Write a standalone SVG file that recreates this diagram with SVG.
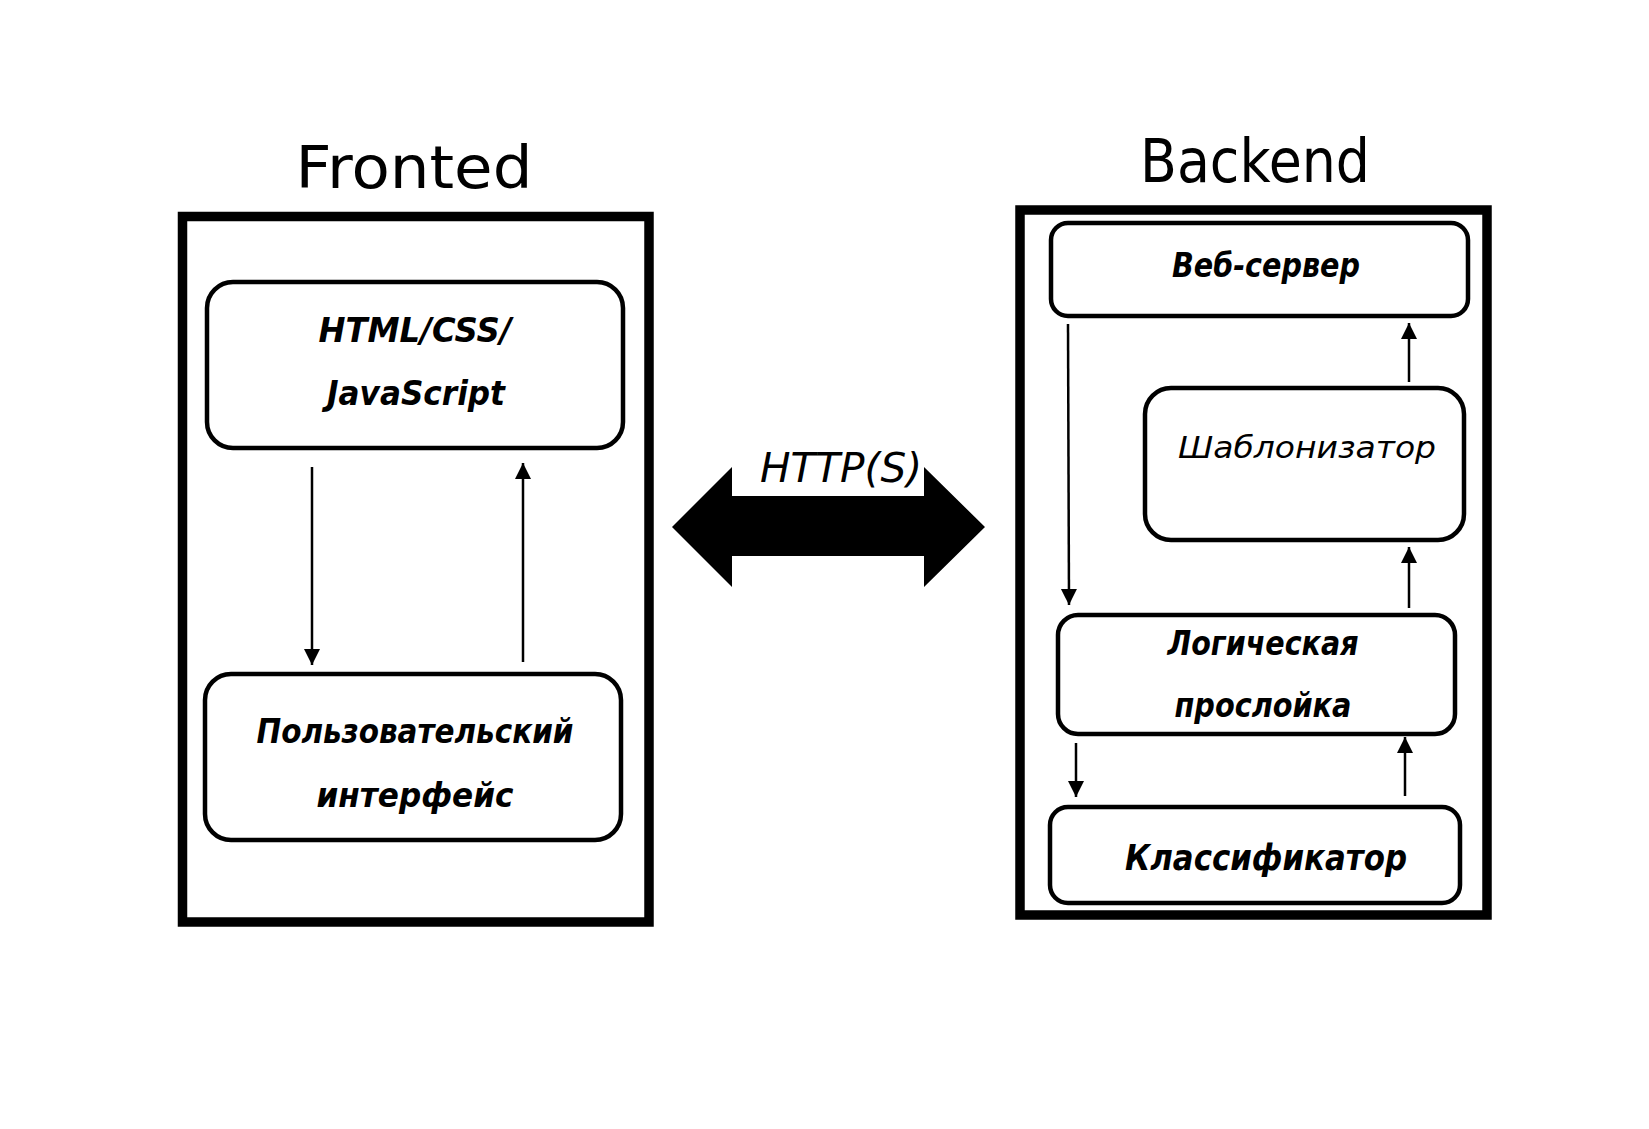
<svg xmlns="http://www.w3.org/2000/svg" width="1649" height="1129" viewBox="0 0 1649 1129">
<style>
.frame{fill:none;stroke:#000;stroke-width:9.5}
.node{fill:#fff;stroke:#000;stroke-width:4.5}
.title{font-family:"DejaVu Sans","Liberation Sans",sans-serif;font-weight:normal;fill:#000;text-anchor:middle}
.lbl{font-family:"DejaVu Sans","Liberation Sans",sans-serif;font-weight:bold;font-style:italic;fill:#000;text-anchor:middle}
.lbln{font-family:"DejaVu Sans","Liberation Sans",sans-serif;font-weight:normal;font-style:italic;fill:#000;text-anchor:middle}
.conn{stroke:#000;stroke-width:2.5;fill:none;marker-end:url(#ah)}
</style>
<defs>
<marker id="ah" markerUnits="userSpaceOnUse" markerWidth="18" markerHeight="18" refX="16" refY="8" orient="auto">
<path d="M0,0 L16,8 L0,16 z" fill="#000"/>
</marker>
</defs>
<rect width="1649" height="1129" fill="#fff"/>

<g id="frontend">
<text class="title" x="414" y="188" font-size="58" textLength="237" lengthAdjust="spacingAndGlyphs">Fronted</text>
<rect class="frame" x="182.5" y="216.5" width="466.5" height="705.5"/>
</g>

<g id="html-css-js">
<rect class="node" x="207" y="282" width="416" height="166" rx="26"/>
<text class="lbl" x="415" y="342" font-size="33" textLength="193" lengthAdjust="spacingAndGlyphs">HTML/CSS/</text>
<text class="lbl" x="416" y="405" font-size="33" textLength="178" lengthAdjust="spacingAndGlyphs">JavaScript</text>
</g>

<g id="user-interface">
<rect class="node" x="205" y="674" width="416" height="166" rx="26"/>
<text class="lbl" x="415" y="743" font-size="33" textLength="317" lengthAdjust="spacingAndGlyphs">Пользовательский</text>
<text class="lbl" x="415" y="807" font-size="33" textLength="197" lengthAdjust="spacingAndGlyphs">интерфейс</text>
</g>

<g id="http">
<polygon points="672,527 732,467 732,496 924,496 924,467 985,527 924,587 924,556 732,556 732,587" fill="#000"/>
<text class="lbln" x="841" y="482" font-size="40" textLength="162" lengthAdjust="spacingAndGlyphs">HTTP(S)</text>
</g>

<g id="backend">
<text class="title" x="1255" y="182" font-size="60" textLength="230" lengthAdjust="spacingAndGlyphs">Backend</text>
<rect class="frame" x="1020" y="210" width="467" height="705"/>
</g>

<g id="web-server">
<rect class="node" x="1051" y="223" width="417" height="93" rx="17"/>
<text class="lbl" x="1266" y="277" font-size="34" textLength="188" lengthAdjust="spacingAndGlyphs">Веб-сервер</text>
</g>

<g id="templater">
<rect class="node" x="1145" y="388" width="319" height="152" rx="26"/>
<text class="lbln" x="1307" y="458" font-size="31" textLength="258" lengthAdjust="spacingAndGlyphs">Шаблонизатор</text>
</g>

<g id="logic-layer">
<rect class="node" x="1058" y="615" width="397" height="119" rx="20"/>
<text class="lbl" x="1263" y="655" font-size="33" textLength="191" lengthAdjust="spacingAndGlyphs">Логическая</text>
<text class="lbl" x="1263" y="717" font-size="33" textLength="177" lengthAdjust="spacingAndGlyphs">прослойка</text>
</g>

<g id="classifier">
<rect class="node" x="1050" y="807" width="410" height="96" rx="18"/>
<text class="lbl" x="1266" y="870" font-size="36" textLength="282" lengthAdjust="spacingAndGlyphs">Классификатор</text>
</g>

<g id="connectors">
<line class="conn" x1="312" y1="467" x2="312" y2="665"/>
<line class="conn" x1="523" y1="662" x2="523" y2="463"/>
<line class="conn" x1="1068" y1="324" x2="1069" y2="605"/>
<line class="conn" x1="1409" y1="382" x2="1409" y2="323"/>
<line class="conn" x1="1409" y1="608" x2="1409" y2="547"/>
<line class="conn" x1="1076" y1="743" x2="1076" y2="797"/>
<line class="conn" x1="1405" y1="796" x2="1405" y2="737"/>
</g>
</svg>
